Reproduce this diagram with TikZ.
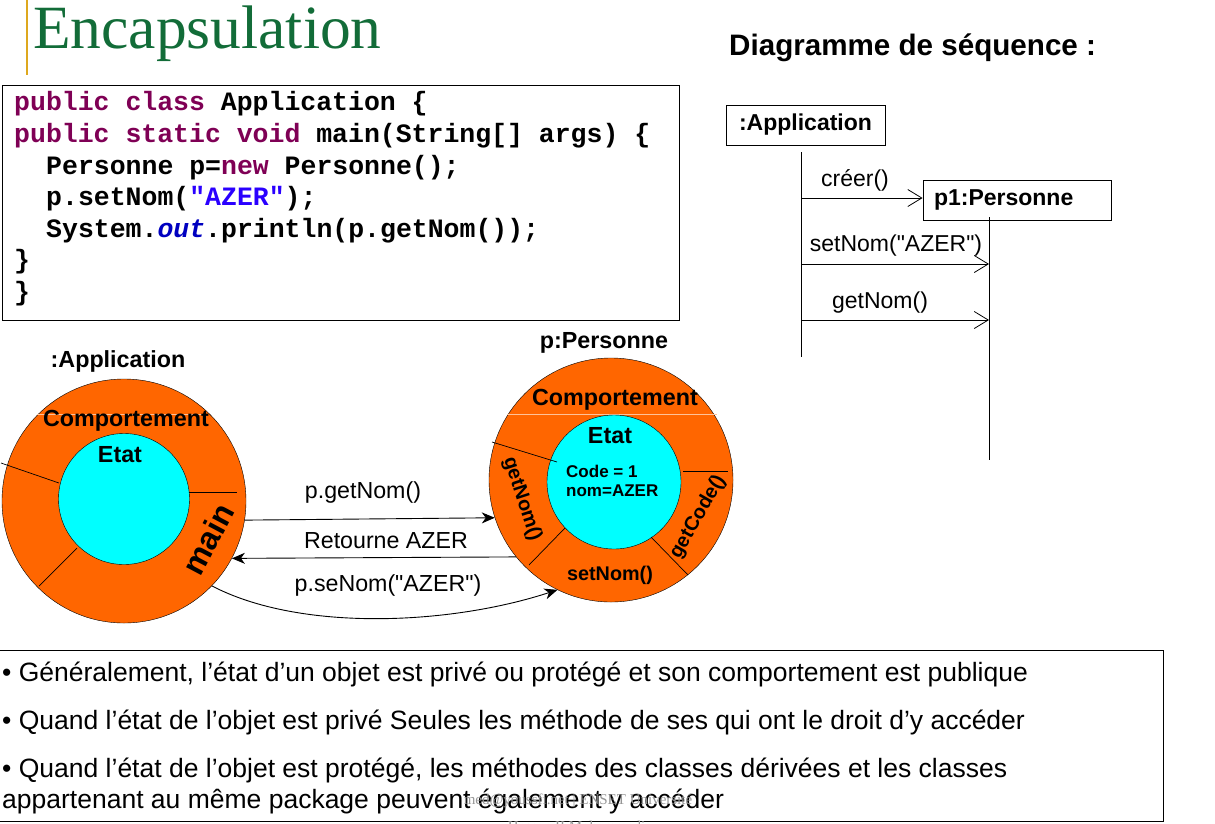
\documentclass[tikz,border=0pt]{standalone}
\usepackage{fontspec}
\setmainfont{Liberation Sans}[Ligatures=TeXOff]
\newfontfamily\codefont{Liberation Mono}
\newfontfamily\titlefont{Liberation Serif}
\usetikzlibrary{arrows.meta}

\definecolor{titlegreen}{RGB}{18,108,56}
\definecolor{bargold}{RGB}{222,168,30}
\definecolor{objorange}{RGB}{255,102,0}
\definecolor{statecyan}{RGB}{0,255,255}
\definecolor{kwpurple}{RGB}{127,0,85}
\definecolor{strblue}{RGB}{42,0,255}
\definecolor{fieldblue}{RGB}{0,0,192}
\definecolor{footgray}{RGB}{150,150,150}

\newcommand{\fsz}[1]{\fontsize{#1}{#1}\selectfont}
\newcommand{\sq}{\char34\relax}

\tikzset{
  codeline/.style={anchor=base west, inner sep=0pt, font=\codefont\bfseries\fsz{26.5}},
  outerobj/.style={circle, draw, fill=objorange, inner sep=0pt, minimum size=244pt},
  innerstate/.style={circle, draw, fill=statecyan, inner sep=0pt},
  objlabel/.style={font=\bfseries\fsz{23.3}, inner sep=0pt},
  methlabel/.style={font=\bfseries\fsz{19.8}, inner sep=0pt},
  msglabel/.style={font=\fsz{23.2}, inner sep=0pt},
  callarrow/.style={-{Stealth[length=13pt,width=11pt,inset=4pt]}, line width=0.9pt},
  seqbox/.style={draw, line width=0.9pt, inner sep=0pt, font=\bfseries\fsz{23}},
  seqmsg/.style={-{Straight Barb[length=14pt,width=17pt]}, line width=0.8pt},
  seqlabel/.style={font=\fsz{23}, inner sep=0pt},
  bullettext/.style={anchor=base west, inner sep=0pt, font=\fsz{26.5}},
  partline/.style={line width=0.7pt},
}

\begin{document}
\begin{tikzpicture}[x=1pt,y=-1pt]
\useasboundingbox (0,0) rectangle (1215,823);

% title
\draw[bargold, line width=2pt] (27,0) -- (27,75);
\node[anchor=base west, inner sep=0pt, text=titlegreen, font=\titlefont\fsz{61.5}] (title) at (33,48) {Encapsulation};
\node[anchor=base west, inner sep=0pt, font=\bfseries\fsz{29.6}] (seqtitle) at (729,55) {Diagramme de séquence :};

% Java source
\draw[line width=0.9pt] (2,85) rectangle (679,320);
\node[codeline] (code1) at (14,110) {\textcolor{kwpurple}{public class} Application \{};
\node[codeline] (code2) at (14,142) {\textcolor{kwpurple}{public static void} main(String[] args) \{};
\node[codeline] (code3) at (46,174) {Personne p=\textcolor{kwpurple}{new} Personne();};
\node[codeline] (code4) at (46,205) {p.setNom(\textcolor{strblue}{\sq AZER\sq});};
\node[codeline] (code5) at (46,237) {System.\textcolor{fieldblue}{\itshape out}.println(p.getNom());};
\node[codeline] (code6) at (14,268) {\}};
\node[codeline] (code7) at (14,300) {\}};

% object :Application
\node[objlabel] (appname) at (118,361) {:Application};
\node[outerobj] (app) at (124,501) {};
\draw[objorange!40!white, line width=0.8pt] (37,414) -- (207,414);
\node[innerstate, minimum size=131pt] (appstate) at (124,499) {};
\draw[partline] (1,463) -- (59,483);
\draw[partline] (189,492) -- (237,492);
\draw[partline] (77,548) -- (39,586);
\node[objlabel] (appbeh) at (126,421) {Comportement};
\node[objlabel] (appetat) at (120,455) {Etat};
\node[font=\bfseries\fsz{32}, inner sep=0pt, rotate=62] (appmain) at (208,539) {main};

% object p:Personne
\node[objlabel] (persname) at (604,343) {p:Personne};
\node[outerobj] (pers) at (611,480) {};
\draw[objorange!40!white, line width=0.8pt] (507,414) -- (717,414);
\node[innerstate, minimum size=134pt] (persstate) at (614,482) {};
\draw[partline] (492,442) -- (557,462);
\draw[partline] (683,471) -- (728,471);
\draw[partline] (565,528) -- (529,565);
\draw[partline] (651,537) -- (688,575);
\node[objlabel] (persbeh) at (615,400) {Comportement};
\node[objlabel] (persetat) at (610,436) {Etat};
\node[anchor=base west, inner sep=0pt, font=\bfseries\fsz{17}] (attr1) at (566,477) {Code = 1};
\node[anchor=base west, inner sep=0pt, font=\bfseries\fsz{17}] (attr2) at (566,496) {nom=AZER};
\node[methlabel, rotate=-72] (mget) at (522,499) {getNom()};
\node[methlabel, rotate=60] (mcode) at (698,517) {getCode()};
\node[methlabel] (mset) at (610,575) {setNom()};

% messages between the objects
\draw[callarrow] (app.-9) -- (pers.198);
\node[msglabel] (lget) at (363,492) {p.getNom()};
\draw[callarrow] (pers.219.7) -- (app.-28);
\node[msglabel] (lret) at (386,541) {Retourne AZER};
\draw[callarrow] (app.-44.7) .. controls (300,632) and (450,625) .. (pers.244.5);
\node[msglabel] (lset) at (388,585) {p.seNom(\sq AZER\sq)};

% sequence diagram
\node[seqbox, minimum width=159pt, minimum height=40pt] (sapp) at (805.5,125) {:Application};
\node[seqbox, minimum width=188pt, minimum height=40pt, text width=166pt, align=left] (spers) at (1017,200) {p1:Personne};
\coordinate (la1) at (801,152);
\coordinate (la2) at (801,357);
\coordinate (lp1) at (989,217);
\coordinate (lp2) at (989,460);
\draw[line width=0.8pt] (la1) -- (la2);
\draw[line width=0.8pt] (lp1) -- (lp2);
\coordinate (m1) at (801,198);
\coordinate (m2a) at (801,264);
\coordinate (m2b) at (989,264);
\coordinate (m3a) at (801,320);
\coordinate (m3b) at (989,320);
\draw[seqmsg] (m1) -- (spers.west |- m1);
\draw[seqmsg] (m2a) -- (m2b);
\draw[seqmsg] (m3a) -- (m3b);
\node[seqlabel] (screer) at (855,180) {créer()};
\node[seqlabel] (sset) at (896,246) {setNom(\sq AZER\sq)};
\node[seqlabel] (sget) at (880,303) {getNom()};

% remarks
\draw[line width=0.9pt] (-1,650) -- (1163,650) -- (1163,821) -- (-1,821);
\node[bullettext] (b1) at (2,681) {• Généralement, l’état d’un objet est privé ou protégé et son comportement est publique};
\node[bullettext] (b2) at (2,729) {• Quand l’état de l’objet est privé Seules les méthode de ses qui ont le droit d’y accéder};
\node[bullettext] (b3) at (2,777) {• Quand l’état de l’objet est protégé, les méthodes des classes dérivées et les classes};
\node[bullettext] (b4) at (2,808) {appartenant au même package peuvent également y accéder};

% footer
\node[text=footgray, font=\titlefont\fsz{15}, inner sep=0pt] (foot1) at (578,801) {med@youssfi.net | ENSET Université};
\node[text=footgray, font=\titlefont\fsz{15}, inner sep=0pt] (foot2) at (580,826) {Hassan II Mohammedia};
\end{tikzpicture}
\end{document}
